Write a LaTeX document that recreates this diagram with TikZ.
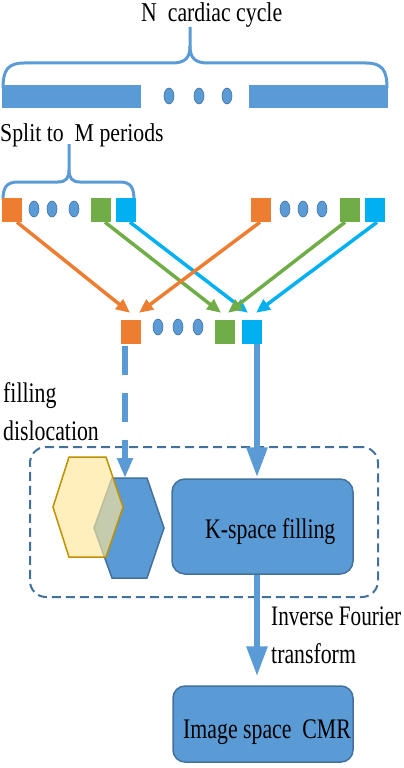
\documentclass[tikz,border=0pt]{standalone}
\usepackage{fontspec}
\setmainfont{Liberation Serif}
\usetikzlibrary{arrows.meta,shapes.geometric,calc}
\definecolor{mblue}{HTML}{5B9BD5}
\definecolor{dblue}{HTML}{41719C}
\definecolor{morange}{HTML}{ED7D31}
\definecolor{mgreen}{HTML}{70AD47}
\definecolor{mcyan}{HTML}{00B0F0}
\definecolor{myellow}{HTML}{FFE699}
\definecolor{mgold}{HTML}{BF9000}
\newcommand{\tx}[2][1.3]{\scalebox{1}[#1]{#2}}
\begin{document}
\begin{tikzpicture}[x=1pt,y=-1pt,
  txt/.style={inner sep=0pt, anchor=base west, font=\fontsize{21.8}{24}\selectfont},
  sq/.style={minimum width=20pt, minimum height=24pt, inner sep=0pt},
  dot/.style={ellipse, minimum width=10pt, minimum height=16pt, inner sep=0pt, fill=mblue, draw=dblue, line width=0.6pt},
  bar/.style={fill=mblue, minimum width=139pt, minimum height=23pt, inner sep=0pt},
  brace/.style={draw=mblue, line width=3pt},
  conn/.style={line width=3.5pt, -{Triangle[length=14pt,width=12pt]}},
  box/.style={rounded corners=13pt, fill=mblue, draw=dblue, line width=1.5pt, inner sep=0pt},
  dashbox/.style={draw=dblue, line width=2pt, dash pattern=on 9pt off 5pt, rounded corners=16pt, inner sep=0pt},
  bigarrow/.style={draw=mblue, line width=6pt, -{Triangle[length=30pt,width=20pt]}},
  dasharrow/.style={draw=mblue, line width=6pt, dash pattern=on 29pt off 18pt, -{Triangle[length=20pt,width=15pt]}},
]
\path[use as bounding box] (0,0) rectangle (404,768);

% title and top brace
\node[txt] (title) at (141,21.5) {\tx[1.25]{N\ \ cardiac cycle}};
\draw[brace] (3,88) .. controls (3,70) and (8,63) .. (24,63) -- (172,63) .. controls (185,63) and (190,58) .. (190,46) -- (190,27);
\draw[brace] (190,46) .. controls (190,58) and (195,63) .. (208,63) -- (366,63) .. controls (382,63) and (387,70) .. (387,88);

% bars
\node[bar] (barL) at (71.5,96.5) {};
\node[bar] (barR) at (318.5,96.5) {};
\node[dot] (td1) at (169,96) {};
\node[dot] (td2) at (199,96) {};
\node[dot] (td3) at (227,96) {};

% split label and brace
\node[txt] (split) at (0,141) {\tx[1.18]{Split to\ \ M periods}};
\draw[brace] (3,200) .. controls (3,188) and (6,182) .. (18,182) -- (58,182) .. controls (66,182) and (69,178) .. (69,170) -- (69,144);
\draw[brace] (69,170) .. controls (69,178) and (72,182) .. (80,182) -- (120,182) .. controls (131,182) and (134,188) .. (134,200);

% top rows of squares
\node[sq, fill=morange] (oL) at (12,210) {};
\node[dot] (ld1) at (34,209) {};
\node[dot] (ld2) at (52,209) {};
\node[dot] (ld3) at (74,209) {};
\node[sq, fill=mgreen] (gL) at (100.5,210) {};
\node[sq, fill=mcyan] (bL) at (126,210) {};

\node[sq, fill=morange] (oR) at (261,210) {};
\node[dot] (rd1) at (285,209) {};
\node[dot] (rd2) at (303,209) {};
\node[dot] (rd3) at (322,209) {};
\node[sq, fill=mgreen] (gR) at (349.5,210) {};
\node[sq, fill=mcyan] (bR) at (375,210) {};

% bottom row
\node[sq, fill=morange] (oB) at (130.5,332) {};
\node[dot] (bd1) at (158,327) {};
\node[dot] (bd2) at (178,327) {};
\node[dot] (bd3) at (198,327) {};
\node[sq, fill=mgreen] (gB) at (224.5,332) {};
\node[sq, fill=mcyan] (bB) at (252,332) {};

% crossing arrows
\draw[conn, morange] ($(oL.south)+(5,0)$) -- ($(oB.north)+(-0.5,-7)$);
\draw[conn, mgreen] ($(gL.south)+(4.5,0)$) -- ($(gB.north)+(-3.5,-7)$);
\draw[conn, mcyan] ($(bL.south)+(4,0)$) -- ($(bB.north)+(-4,-7)$);
\draw[conn, morange] ($(oR.south)+(-1,0)$) -- ($(oB.north)+(8.5,-7)$);
\draw[conn, mgreen] ($(gR.south)+(-4.5,0)$) -- ($(gB.north)+(3.5,-7)$);
\draw[conn, mcyan] ($(bR.south)+(2,0)$) -- ($(bB.north)+(4,-7)$);

% filling dislocation label
\node[txt] (fill1) at (3,402) {\tx{filling}};
\node[txt] (fill2) at (3,440) {\tx{dislocation}};

% dashed group
\node[dashbox, minimum width=348pt, minimum height=150pt] (grp) at (204,522) {};

% hexagons
\draw[dblue, line width=1.5pt, fill=mblue] (112,478) -- (147,478) -- (164,528) -- (147,578) -- (112,578) -- (94,528) -- cycle;
\coordinate (hexTop) at (125,478);
\draw[mgold, line width=1.5pt, fill=myellow, fill opacity=0.65] (69,457) -- (106,457) -- (123,507) -- (106,557) -- (69,557) -- (53,507) -- cycle;

% K-space box
\node[box, minimum width=181pt, minimum height=95pt] (ks) at (262.5,526.5) {};
\node[txt] (kslabel) at (205,538) {\tx{K-space filling}};

% image space box
\node[box, rounded corners=12pt, minimum width=180pt, minimum height=76pt] (img) at (263,724) {};
\node[txt] (imglabel) at (183,738) {\tx{Image space\ \ CMR}};

% inverse fourier label
\node[txt, font=\fontsize{21.2}{24}\selectfont] (if1) at (271,625) {\tx[1.33]{Inverse Fourier}};
\node[txt] (if2) at (271,663) {\tx{transform}};

% vertical arrows
\draw[dasharrow] ($(oB.south)+(-5.5,2)$) -- (hexTop);
\draw[bigarrow] ($(bB.south)+(5,0)$) -- ($(ks.north)+(-5.5,-1)$);
\draw[bigarrow] ($(ks.south)+(-5.5,0)$) -- ($(img.north)+(-6,-9)$);
\end{tikzpicture}
\end{document}
